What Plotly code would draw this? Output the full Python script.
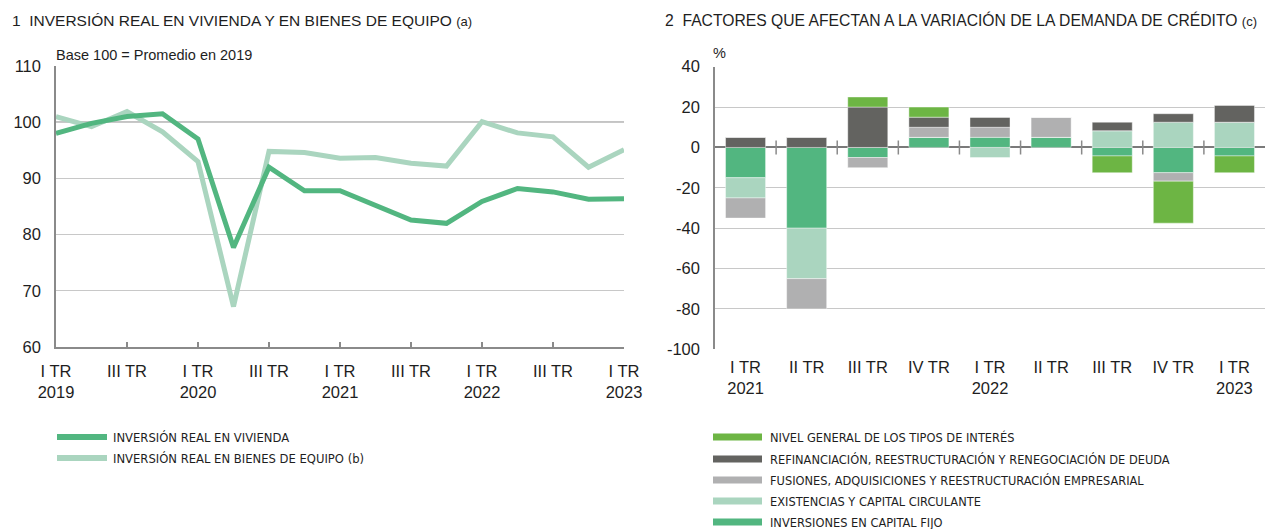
import plotly.graph_objects as go

# ---------------- data ----------------
left_x_ticktext = ["I TR<br>2019", "III TR", "I TR<br>2020", "III TR", "I TR<br>2021",
                   "III TR", "I TR<br>2022", "III TR", "I TR<br>2023"]
vivienda = [98.0, 99.8, 101.0, 101.5, 97.0, 77.7, 92.0, 87.8, 87.8, 85.2, 82.6, 82.0,
            85.9, 88.2, 87.6, 86.3, 86.4]
bienes_equipo = [101.0, 99.2, 101.9, 98.3, 93.0, 67.2, 94.8, 94.6, 93.6, 93.7, 92.7, 92.2,
                 100.1, 98.1, 97.4, 92.0, 95.1]
left_y_ticks = [60, 70, 80, 90, 100, 110]

right_categories = ["I TR<br>2021", "II TR", "III TR", "IV TR", "I TR<br>2022",
                    "II TR", "III TR", "IV TR", "I TR<br>2023"]
capital_fijo = [-15, -40, -5, 5, 5, 5, -4.2, -12.5, -4.2]
existencias = [-10, -25, 0, 0, -5, 0, 8.3, 12.5, 12.5]
fusiones = [-10, -15, -5, 5, 5, 10, 0, -4.2, 0]
refinanciacion = [5, 5, 20, 5, 5, 0, 4.2, 4.2, 8.3]
tipos_interes = [0, 0, 5, 5, 0, 0, -8.3, -20.8, -8.3]
right_y_ticks = [-100, -80, -60, -40, -20, 0, 20, 40]

# ---------------- styles ----------------
W, H = 1265, 529
C_DARK = "#52b680"
C_LIGHT = "#aad5bf"
C_INT = "#6db544"
C_REF = "#636360"
C_FUS = "#b0b0b1"
FONT = "Liberation Sans, Arial, sans-serif"
NARROW = "Liberation Sans Narrow, Arial Narrow, DejaVu Sans Condensed, sans-serif"
TXT = "#1e1e1e"

def px(x):
    return x / W

def py(y):
    return (H - y) / H

fig = go.Figure()

# left chart lines
xs = list(range(len(vivienda)))
fig.add_trace(go.Scatter(x=xs, y=bienes_equipo, mode="lines",
                         line=dict(color=C_LIGHT, width=5), xaxis="x", yaxis="y",
                         showlegend=False, name="INVERSIÓN REAL EN BIENES DE EQUIPO (b)"))
fig.add_trace(go.Scatter(x=xs, y=vivienda, mode="lines",
                         line=dict(color=C_DARK, width=5), xaxis="x", yaxis="y",
                         showlegend=False, name="INVERSIÓN REAL EN VIVIENDA"))

# right chart bars (stack order)
cx = list(range(len(right_categories)))
bar_series = [
    ("INVERSIONES EN CAPITAL FIJO", capital_fijo, C_DARK),
    ("EXISTENCIAS Y CAPITAL CIRCULANTE", existencias, C_LIGHT),
    ("FUSIONES, ADQUISICIONES Y REESTRUCTURACIÓN EMPRESARIAL", fusiones, C_FUS),
    ("REFINANCIACIÓN, REESTRUCTURACIÓN Y RENEGOCIACIÓN DE DEUDA", refinanciacion, C_REF),
    ("NIVEL GENERAL DE LOS TIPOS DE INTERÉS", tipos_interes, C_INT),
]
for name, vals, col in bar_series:
    fig.add_trace(go.Bar(x=cx, y=vals, name=name, marker=dict(color=col,
                         line=dict(color="rgba(255,255,255,0.7)", width=0.6)),
                         width=0.655, xaxis="x2", yaxis="y2", showlegend=False))

# zero-line cross ticks between categories
bx = [i + 0.5 for i in range(len(right_categories) - 1)]
fig.add_trace(go.Scatter(x=bx, y=[0] * len(bx), mode="markers",
                         marker=dict(symbol="line-ns", size=10,
                                     line=dict(color="#8a8a8a", width=1.5)),
                         xaxis="x2", yaxis="y2", showlegend=False, hoverinfo="skip"))

axis_common = dict(tickfont=dict(family=FONT, size=16.5, color=TXT), automargin=False)

fig.update_layout(
    width=W, height=H, margin=dict(l=0, r=0, t=0, b=0, autoexpand=False),
    paper_bgcolor="white", plot_bgcolor="white",
    barmode="relative", showlegend=False,
    xaxis=dict(domain=[px(56), px(624)], range=[0, 16],
               tickvals=list(range(0, 17, 2)), ticktext=left_x_ticktext,
               showgrid=False, zeroline=False, showline=True, linecolor="#8a8a8a",
               linewidth=1.5, ticks="inside", ticklen=5, tickcolor="#8a8a8a",
               tickwidth=1.5, ticklabelstandoff=8, anchor="y", **axis_common),
    yaxis=dict(domain=[py(347), py(66)], range=[60, 110], tickvals=left_y_ticks,
               ticktext=[str(v) for v in left_y_ticks],
               showgrid=True, gridcolor="#c8c8c8", gridwidth=1, zeroline=False,
               showline=True, linecolor="#8a8a8a", linewidth=1.5, ticks="",
               ticklabelstandoff=10, anchor="x", **axis_common),
    xaxis2=dict(domain=[px(715), 1.0], range=[-0.5, 8.5], tickvals=cx,
                ticktext=right_categories, showgrid=False, zeroline=False,
                showline=False, ticks="", ticklabelstandoff=6, anchor="y2", **axis_common),
    yaxis2=dict(domain=[py(349.3), py(66.7)], range=[-100, 40],
                tickvals=right_y_ticks, ticktext=[str(v) for v in right_y_ticks],
                showgrid=True, gridcolor="#c8c8c8", gridwidth=1,
                zeroline=True, zerolinecolor="#7a7a7a", zerolinewidth=2,
                showline=True, linecolor="#8a8a8a", linewidth=1.5, ticks="",
                ticklabelstandoff=10, anchor="x2", **axis_common),
)

shapes = []
# darker reference line at 100 on left chart
shapes.append(dict(type="line", xref="x", yref="y", x0=0, x1=16, y0=100, y1=100,
                   line=dict(color="#8a8a8a", width=1.5), layer="below"))

annotations = []
# titles
annotations.append(dict(
    text="1\u00a0\u00a0INVERSIÓN REAL EN VIVIENDA Y EN BIENES DE EQUIPO <span style='font-size:13px'>(a)</span>",
    x=px(10), y=py(20), xref="paper", yref="paper", xanchor="left", yanchor="middle",
    showarrow=False, font=dict(family=FONT, size=15.5, color=TXT)))
annotations.append(dict(
    text="2\u00a0\u00a0FACTORES QUE AFECTAN A LA VARIACIÓN DE LA DEMANDA DE CRÉDITO <span style='font-size:13px'>(c)</span>",
    x=px(663), y=py(20), xref="paper", yref="paper", xanchor="left", yanchor="middle",
    showarrow=False, font=dict(family=FONT, size=15.7, color=TXT)))
annotations.append(dict(text="Base 100 = Promedio en 2019", x=px(54), y=py(55),
                        xref="paper", yref="paper", xanchor="left", yanchor="middle",
                        showarrow=False, font=dict(family=FONT, size=14.5, color=TXT)))
annotations.append(dict(text="%", x=px(711), y=py(53), xref="paper", yref="paper",
                        xanchor="left", yanchor="middle", showarrow=False,
                        font=dict(family=FONT, size=14.5, color=TXT)))

# left legend
left_leg = [("INVERSIÓN REAL EN VIVIENDA", C_DARK, 437),
            ("INVERSIÓN REAL EN BIENES DE EQUIPO (b)", C_LIGHT, 458)]
for name, col, yy in left_leg:
    shapes.append(dict(type="rect", xref="paper", yref="paper", x0=px(57), x1=px(107),
                       y0=py(yy + 3), y1=py(yy - 3), fillcolor=col, line=dict(width=0)))
    annotations.append(dict(text=name, x=px(111), y=py(yy), xref="paper", yref="paper",
                            xanchor="left", yanchor="middle", showarrow=False,
                            font=dict(family=NARROW, size=12.9, color=TXT)))

# right legend
right_leg = [(bar_series[4][0], C_INT, 437), (bar_series[3][0], C_REF, 459),
             (bar_series[2][0], C_FUS, 480), (bar_series[1][0], C_LIGHT, 501),
             (bar_series[0][0], C_DARK, 522)]
for name, col, yy in right_leg:
    shapes.append(dict(type="rect", xref="paper", yref="paper", x0=px(713), x1=px(762),
                       y0=py(yy + 3.5), y1=py(yy - 3.5), fillcolor=col, line=dict(width=0)))
    annotations.append(dict(text=name, x=px(768), y=py(yy), xref="paper", yref="paper",
                            xanchor="left", yanchor="middle", showarrow=False,
                            font=dict(family=NARROW, size=12.7, color=TXT)))

fig.update_layout(shapes=shapes, annotations=annotations)
fig.write_html("out.html", config={"displayModeBar": False},
               post_script="document.body.style.margin='0px';document.body.style.overflow='hidden';")
